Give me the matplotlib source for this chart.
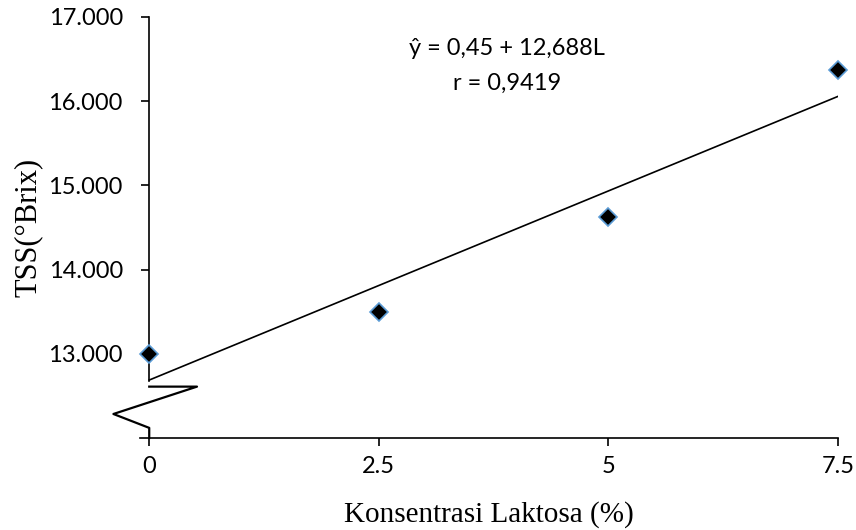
import numpy as np
import matplotlib
matplotlib.use('Agg')
from matplotlib import pyplot as plt

# data
laktosa = [0, 2.5, 5, 7.5]
tss = [13.00, 13.50, 14.62, 16.37]
yticks = [13, 14, 15, 16, 17]
ytick_labels = ['13.000', '14.000', '15.000', '16.000', '17.000']
xticks = [0, 2.5, 5, 7.5]
xtick_labels = ['0', '2.5', '5', '7.5']
equation = 'ŷ = 0,45 + 12,688L'
r_text = 'r = 0,9419'

# linear trend
slope, intercept = np.polyfit(laktosa, tss, 1)

fig = plt.figure(figsize=(8.56, 5.3), dpi=100)
ax = fig.add_axes([0.1636, 0.1736, 0.8154, 0.7944])
ax.set_xlim(-0.1, 7.5)
ax.set_ylim(12, 17)

xl = np.array([0, 7.5])
ax.plot(xl, intercept + slope * xl, color='black', lw=1.2, zorder=2)
ax.plot(laktosa, tss, linestyle='none', marker='D', markersize=9,
        markerfacecolor='black', markeredgecolor='#5B9BD5', markeredgewidth=1.2,
        clip_on=False, zorder=3)

# spines
for s in ['top', 'right']:
    ax.spines[s].set_visible(False)
ax.spines['left'].set_position(('data', 0))
ax.spines['left'].set_bounds(intercept - 0.01, 17)
ax.spines['left'].set_linewidth(1.2)
ax.spines['bottom'].set_linewidth(1.2)

# axis break mark
brk_x = [0, 0.52, -0.39, 0, 0]
brk_y = [12.61, 12.61, 12.285, 12.12, 12.0]
ax.plot(brk_x, brk_y, color='black', lw=1.6, clip_on=False, zorder=2)

tick_font = 'Lato'
ax.set_yticks(yticks)
ax.set_yticklabels(ytick_labels, fontfamily=tick_font, fontsize=17)
ax.set_xticks(xticks)
ax.set_xticklabels(xtick_labels, fontfamily=tick_font, fontsize=17)
ax.tick_params(axis='y', direction='out', length=6, width=1.2, pad=13)
ax.tick_params(axis='x', direction='out', length=6, width=1.2, pad=7)

ax.set_xlabel('Konsentrasi Laktosa (%)', fontfamily='Liberation Serif', fontsize=21, labelpad=17)
ax.set_ylabel('TSS(°Brix)', fontfamily='Liberation Serif', fontsize=22)
ax.yaxis.set_label_coords(-0.14, 0.5)

ax.text(3.9, 16.62, equation, ha='center', va='center', fontfamily=tick_font, fontsize=17)
ax.text(3.9, 16.21, r_text, ha='center', va='center', fontfamily=tick_font, fontsize=17)

fig.savefig('out.png', dpi=100)
